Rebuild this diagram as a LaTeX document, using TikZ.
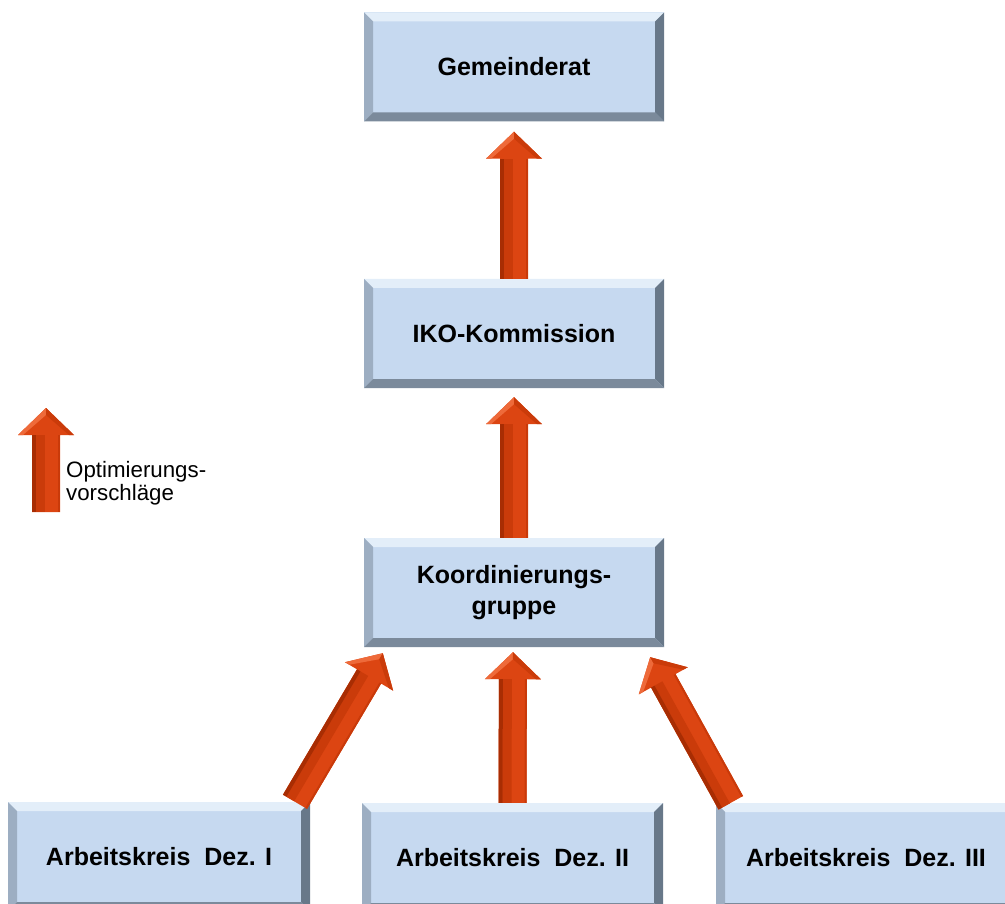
\documentclass[tikz,border=0pt]{standalone}
\usepackage{fontspec}
\setmainfont{Liberation Sans}
\usetikzlibrary{calc}
\definecolor{boxfill}{HTML}{C6D9F0}
\definecolor{bevtop}{HTML}{E3EEF9}
\definecolor{bevleft}{HTML}{9DAEC2}
\definecolor{bevright}{HTML}{687889}
\definecolor{bevbottom}{HTML}{7B8A9B}
\definecolor{arrmain}{HTML}{DC4512}
\definecolor{arrmid}{HTML}{CA3B0A}
\definecolor{arrdark}{HTML}{A82D03}
\definecolor{arrlight}{HTML}{EE6A3A}
\definecolor{arrright}{HTML}{C93A0A}
\tikzset{
  orgbox/.style={minimum width=300pt, minimum height=109pt, inner sep=0pt,
    fill=boxfill, align=center,
    font=\fontsize{25}{31}\selectfont\bfseries,
    path picture={
      \fill[bevtop] (path picture bounding box.north west) -- (path picture bounding box.north east)
        -- ([shift={(-9pt,-9pt)}]path picture bounding box.north east)
        -- ([shift={(9pt,-9pt)}]path picture bounding box.north west) -- cycle;
      \fill[bevleft] (path picture bounding box.north west) -- ([shift={(9pt,-9pt)}]path picture bounding box.north west)
        -- ([shift={(9pt,9pt)}]path picture bounding box.south west)
        -- (path picture bounding box.south west) -- cycle;
      \fill[bevright] (path picture bounding box.north east) -- ([shift={(-9pt,-9pt)}]path picture bounding box.north east)
        -- ([shift={(-9pt,9pt)}]path picture bounding box.south east)
        -- (path picture bounding box.south east) -- cycle;
      \fill[bevbottom] (path picture bounding box.south west) -- ([shift={(9pt,9pt)}]path picture bounding box.south west)
        -- ([shift={(-9pt,9pt)}]path picture bounding box.south east)
        -- (path picture bounding box.south east) -- cycle;
    }},
  legtext/.style={anchor=base west, inner sep=0pt, font=\fontsize{22.3}{27}\selectfont}
}
\newcommand{\blockarrow}[2]{%
  \coordinate (ba-a) at (#1);
  \coordinate (ba-b) at (#2);
  \coordinate (ba-h) at ($(ba-b)!27pt!(ba-a)$);
  \fill[arrmain] ($(ba-a)!14pt!90:(ba-b)$) -- ($(ba-h)!14pt!90:(ba-b)$) -- ($(ba-h)!28pt!90:(ba-b)$)
    -- (ba-b) -- ($(ba-h)!28pt!-90:(ba-b)$) -- ($(ba-h)!14pt!-90:(ba-b)$) -- ($(ba-a)!14pt!-90:(ba-b)$) -- cycle;
  \fill[arrmid] ($(ba-a)!10pt!90:(ba-b)$) -- ($(ba-h)!10pt!90:(ba-b)$) -- ($(ba-h)!1pt!90:(ba-b)$) -- ($(ba-a)!1pt!90:(ba-b)$) -- cycle;
  \fill[arrdark] ($(ba-a)!14pt!90:(ba-b)$) -- ($(ba-h)!14pt!90:(ba-b)$) -- ($(ba-h)!10pt!90:(ba-b)$) -- ($(ba-a)!10pt!90:(ba-b)$) -- cycle;
  \fill[arrright] ($(ba-a)!14pt!-90:(ba-b)$) -- ($(ba-h)!14pt!-90:(ba-b)$) -- ($(ba-h)!12pt!-90:(ba-b)$) -- ($(ba-a)!12pt!-90:(ba-b)$) -- cycle;
  \fill[arrlight] (ba-b) -- ($(ba-h)!28pt!90:(ba-b)$) -- ($(ba-h)!23pt!90:(ba-b)$) -- ($(ba-b)!7pt!(ba-a)$) -- cycle;
  \fill[arrmid] (ba-b) -- ($(ba-h)!28pt!-90:(ba-b)$) -- ($(ba-h)!23pt!-90:(ba-b)$) -- ($(ba-b)!7pt!(ba-a)$) -- cycle;
}
\begin{document}
\begin{tikzpicture}[x=1pt,y=1pt]
\useasboundingbox (0,0) rectangle (1005,-904);
\clip (0,0) rectangle (1005,-904);
\node[orgbox] (gr) at (514,-67) {Gemeinderat};
\node[orgbox] (iko) at (514,-333.5) {IKO-Kommission};
\node[orgbox] (ko) at (514,-592.5) {Koordinierungs-\\gruppe};
\node[orgbox, minimum width=302pt] (ak1) at (159,-856.5) {Arbeitskreis\ \ Dez. I};
\node[orgbox, minimum width=301pt] (ak2) at (512.5,-857.5) {Arbeitskreis\ \ Dez. II};
\node[orgbox] (ak3) at (866,-857.5) {Arbeitskreis\ \ Dez. III};
\coordinate (t1) at ([yshift=-10pt]gr.south);
\coordinate (t2) at ([yshift=-9pt]iko.south);
\coordinate (t3) at ([shift={(-1pt,-5pt)}]ko.south);
\coordinate (t4) at ([shift={(19pt,-6pt)}]ko.south west);
\coordinate (t5) at ([shift={(-14pt,-10pt)}]ko.south east);
\coordinate (s4) at ([xshift=136pt]ak1.north);
\coordinate (s5) at ([xshift=15pt]ak3.north west);
\blockarrow{iko.north}{t1}
\blockarrow{ko.north}{t2}
\blockarrow{ak2.north}{t3}
\blockarrow{s4}{t4}
\blockarrow{s5}{t5}
\coordinate (legtail) at (46,-512);
\coordinate (legtip) at (46,-408);
\blockarrow{legtail}{legtip}
\node[legtext] (leg1) at (66,-477.5) {Optimierungs-};
\node[legtext] (leg2) at (66,-500.5) {vorschläge};
\end{tikzpicture}
\end{document}
